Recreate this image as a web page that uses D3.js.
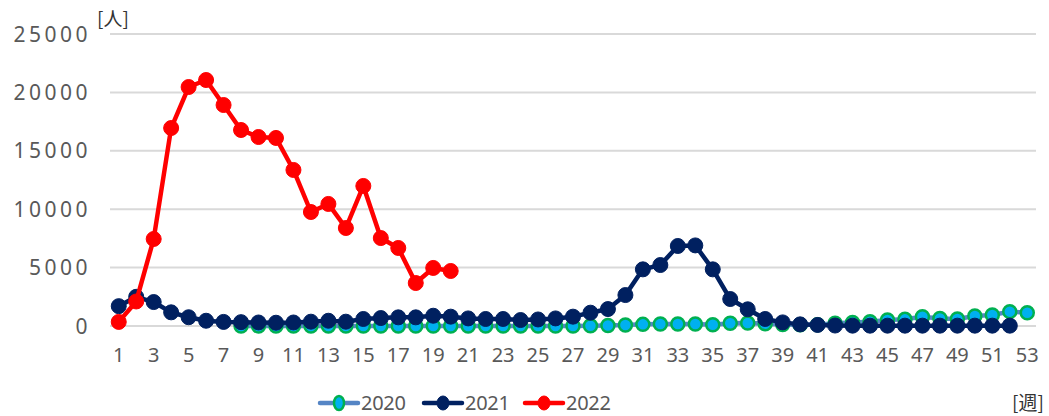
<!DOCTYPE html>
<html lang="ja">
<head>
  <meta charset="UTF-8">
  <title>週別患者数</title>
  <script src="https://d3js.org/d3.v7.min.js"></script>
  <style>
    body { margin: 0; background: #fff; }
    .tick-label { font-family: "Noto Sans", "DejaVu Sans", sans-serif; fill: #595959; }
    .unit { font-family: "Noto Sans CJK JP", sans-serif; fill: #333; font-size: 19px; }
  </style>
</head>
<body>
<svg id="chart" width="1049" height="416"></svg>
<script>
// weeks 1..53
const weeks = d3.range(1, 54);
const yTicks = [0, 5000, 10000, 15000, 20000, 25000];

// 2020 (data starts week 8)
const s2020 = [null, null, null, null, null, null, null,
  0, 0, 0, 0, 0, 0, 0, 0, 0, 0,
  0, 0, 0, 0, 0, 0, 0, 0, 0, 0,
  20, 40, 80, 140, 170, 170, 170, 100, 230, 250,
  200, 120, 100, 100, 230, 310, 370, 510, 570, 800,
  650, 600, 860, 940, 1230, 1140];

const s2021 = [1700, 2500, 2050, 1170, 750, 450, 350, 330, 300, 280,
  300, 370, 450, 370, 600, 680, 740, 740, 880, 800,
  650, 600, 600, 510, 560, 650, 800, 1140, 1450, 2650,
  4850, 5220, 6850, 6900, 4850, 2310, 1430, 600, 310, 140,
  90, 40, 30, 30, 30, 30, 30, 30, 30, 30,
  30, 30, null];

const s2022 = [350, 2100, 7450, 16950, 20460, 21060, 18920, 16780, 16180, 16100,
  13360, 9760, 10450, 8390, 11990, 7530, 6680, 3680, 4970, 4710];

const seriesNames = ["2020", "2021", "2022"];

const svg = d3.select("#chart");
const margin = { left: 110, right: 13 };
const W = 1049;

const x = d3.scaleBand().domain(weeks).range([margin.left, W - margin.right]);
const y = d3.scaleLinear().domain([0, 25000]).range([326, 34]);
const cx = w => x(w) + x.bandwidth() / 2;

// gridlines
svg.append("g").selectAll("line").data(yTicks).join("line")
  .attr("x1", margin.left).attr("x2", W - margin.right)
  .attr("y1", d => y(d)).attr("y2", d => y(d))
  .attr("stroke", "#d9d9d9").attr("stroke-width", 2);

// y labels
svg.append("g").selectAll("text").data(yTicks).join("text")
  .attr("class", "tick-label")
  .attr("x", 91).attr("y", d => y(d) + 7.5)
  .attr("text-anchor", "end")
  .style("font-size", "21px").style("letter-spacing", "3.5px")
  .text(d => d);

// x labels (odd weeks)
svg.append("g").selectAll("text").data(weeks.filter(w => w % 2 === 1)).join("text")
  .attr("class", "tick-label")
  .attr("x", d => cx(d)).attr("y", 362)
  .attr("text-anchor", "middle")
  .style("font-size", "20px")
  .text(d => d);

// units
svg.append("text").attr("class", "unit").attr("x", 97).attr("y", 26).text("[人]");
svg.append("text").attr("class", "unit").attr("x", 1012).attr("y", 410).text("[週]");

const styles = {
  "2020": { line: "#5585c5", fill: "#00b0f0", stroke: "#00b050", sw: 2.5, r: 6.5 },
  "2021": { line: "#002060", fill: "#002060", stroke: "#002060", sw: 1, r: 7.5 },
  "2022": { line: "#ff0000", fill: "#ff0000", stroke: "#ff0000", sw: 1, r: 7.5 }
};
const data = { "2020": s2020, "2021": s2021, "2022": s2022 };

const line = d3.line()
  .defined(d => d.v != null)
  .x(d => cx(d.w)).y(d => y(d.v));

seriesNames.forEach(name => {
  const st = styles[name];
  const pts = data[name].map((v, i) => ({ w: weeks[i], v: v }));
  const g = svg.append("g");
  g.append("path").datum(pts)
    .attr("d", line)
    .attr("fill", "none")
    .attr("stroke", st.line)
    .attr("stroke-width", 4.5)
    .attr("stroke-linejoin", "round");
  g.selectAll("circle").data(pts.filter(d => d.v != null)).join("circle")
    .attr("cx", d => cx(d.w)).attr("cy", d => y(d.v))
    .attr("r", st.r)
    .attr("fill", st.fill)
    .attr("stroke", st.stroke)
    .attr("stroke-width", st.sw);
});

// legend
const legendX = [318, 422, 523];
seriesNames.forEach((name, i) => {
  const st = styles[name];
  const lg = svg.append("g").attr("transform", `translate(${legendX[i]},403)`);
  lg.append("line").attr("x1", 2).attr("x2", 40).attr("y1", 0).attr("y2", 0)
    .attr("stroke", st.line).attr("stroke-width", 4.5).attr("stroke-linecap", "round");
  lg.append("ellipse").attr("cx", 21).attr("cy", 0).attr("rx", name === "2020" ? 5 : 6).attr("ry", 7)
    .attr("fill", st.fill).attr("stroke", st.stroke).attr("stroke-width", st.sw);
  lg.append("text").attr("class", "tick-label")
    .attr("x", 43).attr("y", 7)
    .style("font-size", "20px").style("letter-spacing", "-0.3px")
    .text(name);
});
</script>
</body>
</html>
